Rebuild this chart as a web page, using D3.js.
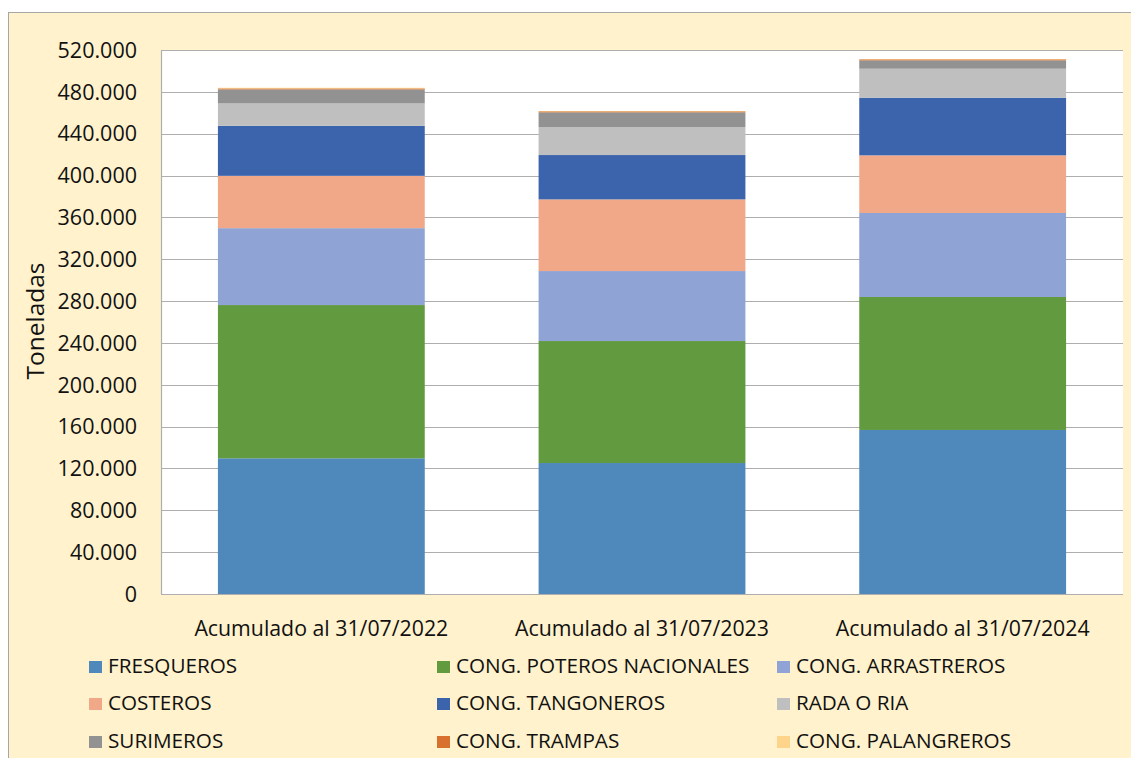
<!DOCTYPE html>
<html>
<head>
<meta charset="utf-8">
<script src="https://cdn.jsdelivr.net/npm/d3@7"></script>
<style>
  body { margin: 0; background: #fff; }
  svg { display: block; font-family: "Open Sans", "Noto Sans", sans-serif; }
</style>
</head>
<body>
<svg id="chart" width="1131" height="758"></svg>
<script>
// data (toneladas)
var categories = ['Acumulado al 31/07/2022', 'Acumulado al 31/07/2023', 'Acumulado al 31/07/2024'];
var seriesNames = ['FRESQUEROS', 'CONG. POTEROS NACIONALES', 'CONG. ARRASTREROS',
  'COSTEROS', 'CONG. TANGONEROS', 'RADA O RIA',
  'SURIMEROS', 'CONG. TRAMPAS', 'CONG. PALANGREROS'];
var fresqueros = [129700, 125200, 156800];
var poteros = [146500, 116600, 127100];
var arrastreros = [73500, 66900, 80300];
var costeros = [50000, 68500, 55100];
var tangoneros = [47800, 42400, 55100];
var rada = [21400, 26800, 27700];
var surimeros = [13400, 14000, 8000];
var trampas = [1000, 1000, 1000];
var palangreros = [600, 300, 300];
var yTicks = [0, 40000, 80000, 120000, 160000, 200000, 240000, 280000, 320000, 360000, 400000, 440000, 480000, 520000];

var colors = ['#4f88bb', '#629a3f', '#8fa4d5', '#f0a889', '#3c64ac', '#bfbfbf', '#929292', '#d9712e', '#fed48a'];
var values = [fresqueros, poteros, arrastreros, costeros, tangoneros, rada, surimeros, trampas, palangreros];

var svg = d3.select('#chart');

// chart area background
svg.append('rect')
  .attr('x', 8.5).attr('y', 12.5)
  .attr('width', 1140).attr('height', 760)
  .attr('fill', '#fff2cc')
  .attr('stroke', '#a6a6a6')
  .attr('stroke-width', 1);

var plot = { left: 161, top: 50, right: 1123, bottom: 594 };

// plot area
svg.append('rect')
  .attr('x', plot.left).attr('y', plot.top)
  .attr('width', plot.right - plot.left).attr('height', plot.bottom - plot.top)
  .attr('fill', '#fff');

var x = d3.scaleBand()
  .domain(categories)
  .range([plot.left, plot.right])
  .paddingInner(0.355)
  .paddingOuter(0.1775);

var y = d3.scaleLinear()
  .domain([0, 520000])
  .range([plot.bottom, plot.top]);

var fmt = function(d) { return d3.format(',')(d).replace(/,/g, '.'); };

// gridlines
svg.append('g')
  .selectAll('line')
  .data(yTicks)
  .enter()
  .append('line')
  .attr('x1', plot.left).attr('x2', plot.right)
  .attr('y1', function(d) { return Math.round(y(d)) + 0.5; })
  .attr('y2', function(d) { return Math.round(y(d)) + 0.5; })
  .attr('stroke', '#aeaeae')
  .attr('stroke-width', 1.2);

// stacked data
var table = categories.map(function(c, i) {
  var row = { cat: c };
  seriesNames.forEach(function(s, k) { row[s] = values[k][i]; });
  return row;
});
var stack = d3.stack().keys(seriesNames)(table);

svg.append('g')
  .selectAll('g')
  .data(stack)
  .enter()
  .append('g')
  .attr('fill', function(d, i) { return colors[i]; })
  .selectAll('rect')
  .data(function(d) { return d; })
  .enter()
  .append('rect')
  .attr('x', function(d) { return x(d.data.cat); })
  .attr('width', x.bandwidth())
  .attr('y', function(d) { return y(d[1]); })
  .attr('height', function(d) { return y(d[0]) - y(d[1]); });

// left axis line
svg.append('line')
  .attr('x1', plot.left + 0.5).attr('x2', plot.left + 0.5)
  .attr('y1', plot.top).attr('y2', plot.bottom)
  .attr('stroke', '#aeaeae').attr('stroke-width', 1.2);

// y tick labels
svg.append('g')
  .selectAll('text')
  .data(yTicks)
  .enter()
  .append('text')
  .attr('x', 137)
  .attr('y', function(d) { return y(d); })
  .attr('dy', '0.36em')
  .attr('text-anchor', 'end')
  .attr('font-size', 21.5)
  .attr('fill', '#111')
  .text(fmt);

// y axis title
svg.append('text')
  .attr('transform', 'translate(44,' + 321 + ') rotate(-90)')
  .attr('text-anchor', 'middle')
  .attr('font-size', 24.5)
  .attr('fill', '#111')
  .text('Toneladas');

// x labels
svg.append('g')
  .selectAll('text')
  .data(categories)
  .enter()
  .append('text')
  .attr('x', function(d) { return x(d) + x.bandwidth() / 2; })
  .attr('y', 636)
  .attr('text-anchor', 'middle')
  .attr('font-size', 21.3)
  .attr('fill', '#111')
  .text(function(d) { return d; });

// legend
var legendCols = [89, 437, 777];
var legendRows = [666, 703, 741];
var legend = svg.append('g')
  .selectAll('g')
  .data(seriesNames)
  .enter()
  .append('g')
  .attr('transform', function(d, i) {
    return 'translate(' + legendCols[i % 3] + ',' + legendRows[Math.floor(i / 3)] + ')';
  });

legend.append('rect')
  .attr('x', 0).attr('y', -5)
  .attr('width', 13).attr('height', 12)
  .attr('fill', function(d, i) { return colors[i]; });

legend.append('text')
  .attr('x', 19)
  .attr('y', 0)
  .attr('dy', '0.36em')
  .attr('font-size', 20.7)
  .attr('fill', '#111')
  .text(function(d) { return d; });
</script>
</body>
</html>
